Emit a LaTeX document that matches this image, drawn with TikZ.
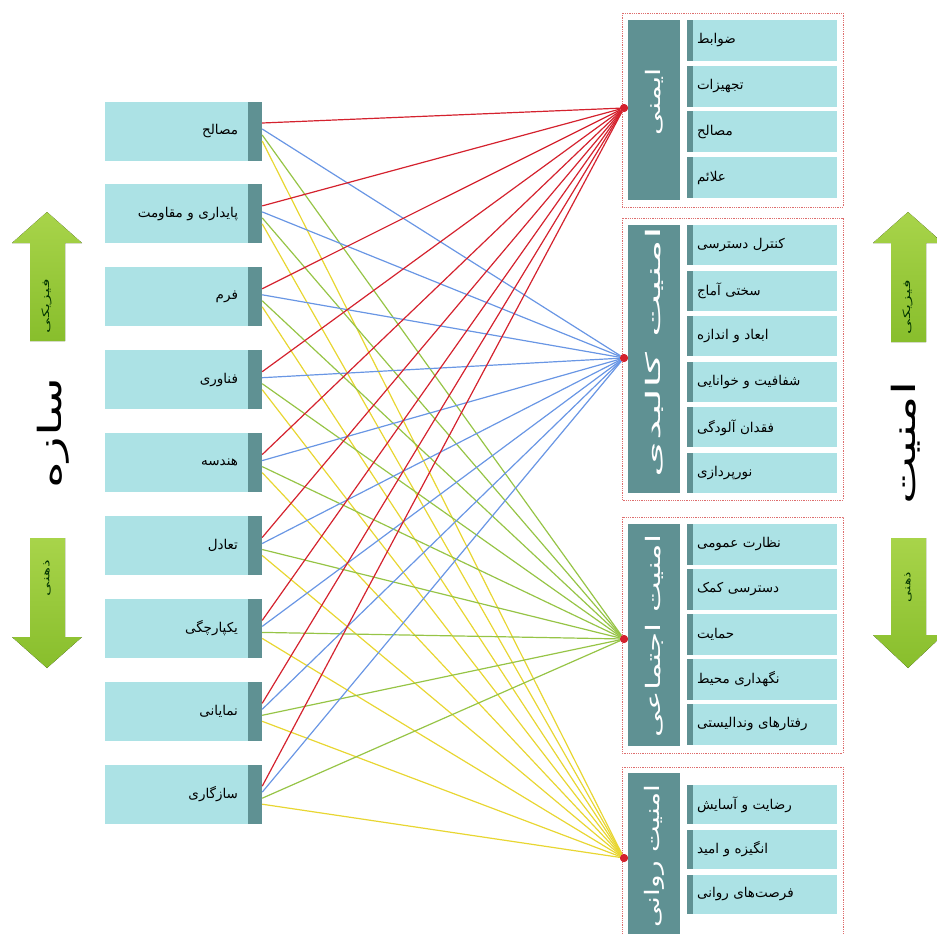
\documentclass[tikz,border=0pt]{standalone}
\usepackage{fontspec}
\usepackage{graphicx}
\newfontfamily\arabicfont[Script=Arabic]{DejaVu Sans}
\TeXXeTstate=1
\usetikzlibrary{calc}
\definecolor{boxcyan}{RGB}{172,226,229}
\definecolor{tealdark}{RGB}{95,145,147}
\definecolor{lnred}{RGB}{212,34,46}
\definecolor{lnblue}{RGB}{105,150,228}
\definecolor{lngreen}{RGB}{150,196,70}
\definecolor{lnyellow}{RGB}{232,214,50}
\definecolor{arrowtop}{RGB}{168,212,74}
\definecolor{arrowbot}{RGB}{136,190,44}
\definecolor{grpborder}{RGB}{222,110,110}
\newcommand{\rtl}[1]{\beginR #1\endR}
\begin{document}
\begin{tikzpicture}[x=1pt,y=-1pt,
  leftbox/.style={fill=boxcyan, minimum width=143pt, minimum height=59pt, text width=123pt, align=right, inner sep=0pt, font=\arabicfont\fontsize{13.5}{16}\selectfont},
  leftstrip/.style={fill=tealdark, minimum width=14pt, minimum height=59pt, inner sep=0pt},
  itembox/.style={fill=boxcyan, minimum width=144pt, text width=136pt, align=left, inner sep=0pt, font=\arabicfont\fontsize{13.5}{16}\selectfont},
  itemstrip/.style={fill=tealdark, minimum width=6pt, inner sep=0pt},
  labelbar/.style={fill=tealdark, minimum width=52pt, inner sep=0pt},
  grouplabel/.style={rotate=90, text=white, inner sep=0pt, font=\arabicfont\fontsize{20}{24}\selectfont},
  groupframe/.style={draw=grpborder, densely dotted, line width=0.8pt},
  dot/.style={circle, fill=lnred, minimum size=8pt, inner sep=0pt},
  link/.style={line width=1.2pt},
  greenarrow/.style={top color=arrowtop, bottom color=arrowbot, draw=none},
  arrowlabel/.style={rotate=90, inner sep=0pt, text=black!80!green, font=\arabicfont\fontsize{10}{12}\selectfont},
  bigtitle/.style={rotate=90, inner sep=0pt, font=\arabicfont\fontsize{32}{38}\selectfont}]
\useasboundingbox (0,0) rectangle (937,934);

% left boxes
\foreach \t [count=\i] in {مصالح,پایداری و مقاومت,فرم,فناوری,هندسه,تعادل,یکپارچگی,نمایانی,سازگاری}{
  \pgfmathsetmacro{\cy}{131+82.9*(\i-1)}
  \node[leftbox] (L\i) at (176.5,\cy) {\rtl{\t}};
  \node[leftstrip] (S\i) at (255,\cy) {};
}

% group frames
\draw[groupframe] (622,13) rectangle (843,207);
\draw[groupframe] (622,218) rectangle (843,500);
\draw[groupframe] (622,517) rectangle (843,753);
\draw[groupframe] (622,767) rectangle (843,945);

% label bars
\node[labelbar, minimum height=180pt] (B1) at (654,110) {};
\node[labelbar, minimum height=268pt] (B2) at (654,359) {};
\node[labelbar, minimum height=222pt] (B3) at (654,635) {};
\node[labelbar, minimum height=172pt] (B4) at (654,859) {};
\node[grouplabel] (G1) at (654,102) {\resizebox{67pt}{\height}{\rtl{ایمنی}}};
\node[grouplabel] (G2) at (654,352) {\resizebox{250pt}{\height}{\rtl{امنیت کالبدی}}};
\node[grouplabel] (G3) at (654,636) {\resizebox{203pt}{\height}{\rtl{امنیت اجتماعی}}};
\node[grouplabel] (G4) at (654,856) {\resizebox{143pt}{\height}{\rtl{امنیت روانی}}};

% group items
\foreach \t [count=\j] in {ضوابط,تجهیزات,مصالح,علائم}{
  \pgfmathsetmacro{\cy}{40.5+45.7*(\j-1)}
  \node[itembox, minimum height=41pt] (A\j) at (765,\cy) {\rtl{\t}};
  \node[itemstrip, minimum height=41pt] (AS\j) at (690,\cy) {};
}
\foreach \t [count=\j] in {کنترل دسترسی,سختی آماج,ابعاد و اندازه,شفافیت و خوانایی,فقدان آلودگی,نورپردازی}{
  \pgfmathsetmacro{\cy}{245+45.6*(\j-1)}
  \node[itembox, minimum height=40pt] (K\j) at (765,\cy) {\rtl{\t}};
  \node[itemstrip, minimum height=40pt] (KS\j) at (690,\cy) {};
}
\foreach \t [count=\j] in {نظارت عمومی,دسترسی کمک,حمایت,نگهداری محیط,رفتارهای وندالیستی}{
  \pgfmathsetmacro{\cy}{544.5+45*(\j-1)}
  \node[itembox, minimum height=41pt] (E\j) at (765,\cy) {\rtl{\t}};
  \node[itemstrip, minimum height=41pt] (ES\j) at (690,\cy) {};
}
\foreach \t [count=\j] in {رضایت و آسایش,انگیزه و امید,فرصت‌های روانی}{
  \pgfmathsetmacro{\cy}{804.5+45*(\j-1)}
  \node[itembox, minimum height=39pt] (R\j) at (765,\cy) {\rtl{\t}};
  \node[itemstrip, minimum height=39pt] (RS\j) at (690,\cy) {};
}

% dots
\node[dot] (D1) at (624,108) {};
\node[dot] (D2) at (624,358) {};
\node[dot] (D3) at (624,639) {};
\node[dot] (D4) at (624,858) {};

% connectors
\foreach \k/\col/\off in {4/lnyellow/10,3/lngreen/4,2/lnblue/-2,1/lnred/-8}{
  \foreach \i in {1,...,9}{
    \draw[link, \col] ($(S\i.east)+(0,\off)$) -- (D\k);
  }
}
\foreach \k in {1,...,4}{ \node[dot] at (D\k) {}; }

% arrows
\fill[greenarrow] (47,212) -- (82,243) -- (65,243) -- (65,341) -- (30,341) -- (30,243) -- (12,243) -- cycle;
\fill[greenarrow] (30,538) -- (65,538) -- (65,637) -- (82,637) -- (47,668) -- (12,637) -- (30,637) -- cycle;
\fill[greenarrow] (908,212) -- (943,243) -- (926,243) -- (926,342) -- (891,342) -- (891,243) -- (873,243) -- cycle;
\fill[greenarrow] (891,538) -- (926,538) -- (926,635) -- (943,635) -- (908,668) -- (873,635) -- (891,635) -- cycle;
\node[arrowlabel] (P1) at (47,306) {\resizebox{54pt}{\height}{\rtl{فیزیکی}}};
\node[arrowlabel] (M1) at (47,578) {\resizebox{36pt}{\height}{\rtl{ذهنی}}};
\node[arrowlabel] (P2) at (908,307) {\resizebox{54pt}{\height}{\rtl{فیزیکی}}};
\node[arrowlabel] (M2) at (908,587) {\resizebox{30pt}{\height}{\rtl{ذهنی}}};

% big titles
\node[bigtitle] (T1) at (53,433) {\resizebox{110pt}{\height}{\rtl{سازه}}};
\node[bigtitle] (T2) at (906,443) {\resizebox{123pt}{\height}{\rtl{امنیت}}};
\end{tikzpicture}
\end{document}
